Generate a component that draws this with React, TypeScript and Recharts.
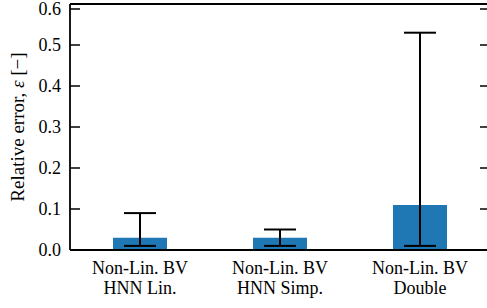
import { BarChart, Bar, XAxis, YAxis, ErrorBar, ReferenceLine } from "recharts";

const categories = [
  ["Non-Lin. BV", "HNN Lin."],
  ["Non-Lin. BV", "HNN Simp."],
  ["Non-Lin. BV", "Double"],
];
const meanError = [0.03, 0.03, 0.11];
const lowerBound = [0.01, 0.01, 0.01];
const upperBound = [0.09, 0.05, 0.53];
const yTicks = [0, 0.1, 0.2, 0.3, 0.4, 0.5, 0.6];

const data = categories.map((c, i) => ({
  name: c.join("\n"),
  value: meanError[i],
  err: [meanError[i] - lowerBound[i], upperBound[i] - meanError[i]],
}));

const FONT = "'Liberation Serif', 'Times New Roman', serif";
const PLOT_W = 420;

// left tick label + inward ticks on both spines (right spine sits just off-page)
function LeftTick({ x, y, payload }: any) {
  return (
    <g>
      <line x1={x} x2={x + 10} y1={y} y2={y} stroke="#000" strokeWidth={1.5} />
      <line x1={x + PLOT_W} x2={x + PLOT_W - 10} y1={y} y2={y} stroke="#000" strokeWidth={1.5} />
      <text x={x - 9} y={y} textAnchor="end" dominantBaseline="central" fontFamily={FONT} fontSize={18} fill="#000">
        {Number(payload.value).toFixed(1)}
      </text>
    </g>
  );
}

function CatTick({ x, y, payload }: any) {
  const lines = String(payload.value).split("\n");
  return (
    <text textAnchor="middle" fontFamily={FONT} fontSize={18} fill="#000">
      <tspan x={x} y={y + 24}>{lines[0]}</tspan>
      <tspan x={x} y={y + 44}>{lines[1]}</tspan>
    </text>
  );
}

function YLabel({ viewBox }: any) {
  const cx = 17;
  const cy = viewBox.y + viewBox.height / 2;
  return (
    <text
      x={cx}
      y={cy}
      transform={`rotate(-90 ${cx} ${cy})`}
      textAnchor="middle"
      dominantBaseline="central"
      fontFamily={FONT}
      fontSize={19}
      fill="#000"
    >
      Relative error, <tspan fontStyle="italic">ε</tspan> [−]
    </text>
  );
}

export default function App() {
  return (
    <div style={{ position: "absolute", left: 0, top: 0, width: 487, height: 308, overflow: "hidden", background: "#fff" }}>
      <BarChart
        width={500}
        height={308}
        data={data}
        margin={{ top: 4, right: 10, bottom: 0, left: 0 }}
        barCategoryGap={43}
      >
        <XAxis
          dataKey="name"
          height={58}
          tickLine={false}
          tickSize={0}
          tickMargin={0}
          axisLine={{ stroke: "#000", strokeWidth: 1.8 }}
          tick={<CatTick />}
          interval={0}
        />
        <YAxis
          width={70}
          domain={[0, 0.6]}
          ticks={yTicks}
          tickLine={false}
          tickSize={0}
          tickMargin={0}
          axisLine={{ stroke: "#000", strokeWidth: 1.8 }}
          tick={<LeftTick />}
          label={<YLabel />}
        />
        <ReferenceLine y={0.6} stroke="#000" strokeWidth={1.8} />
        <Bar dataKey="value" fill="#1f77b4" barSize={54} isAnimationActive={false}>
          <ErrorBar dataKey="err" width={16} stroke="#000" strokeWidth={2} direction="y" />
        </Bar>
      </BarChart>
    </div>
  );
}
